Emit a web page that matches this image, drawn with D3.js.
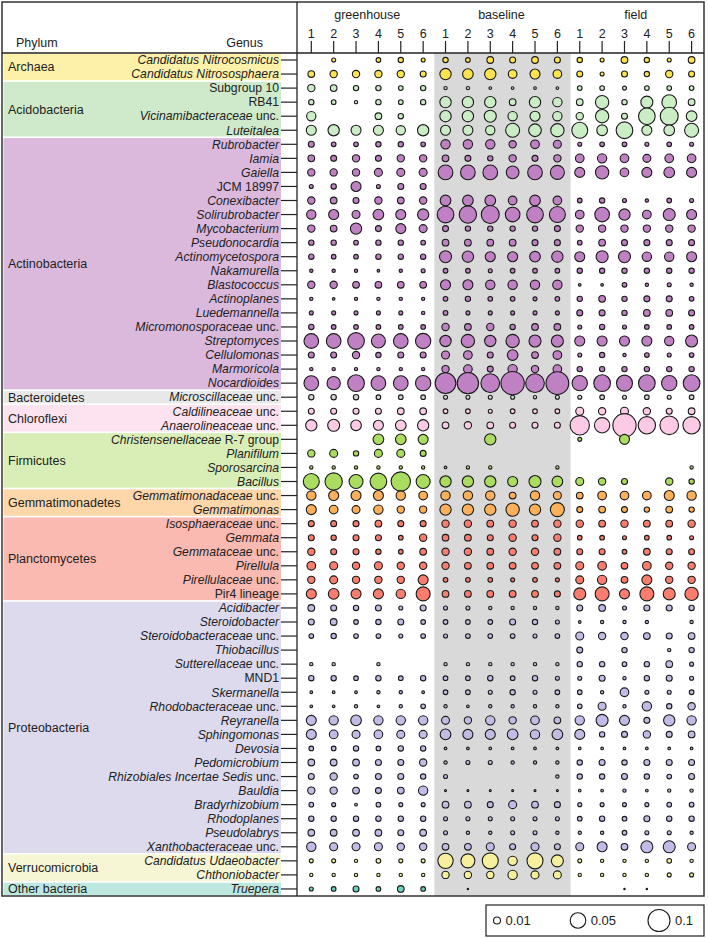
<!DOCTYPE html>
<html>
<head>
<meta charset="utf-8">
<script src="https://cdn.jsdelivr.net/npm/d3@7"></script>
<style>
  html, body { margin: 0; padding: 0; background: #fff; }
  svg { display: block; font-family: "Liberation Sans", Arial, sans-serif; }
</style>
</head>
<body>
<svg id="chart" width="708" height="938"></svg>
<script>
// ---------------- DATA ----------------
const treatments = ["greenhouse", "baseline", "field"];
const replicates = ["1", "2", "3", "4", "5", "6"];

const phyla = ["Archaea", "Acidobacteria", "Actinobacteria", "Bacteroidetes", "Chloroflexi",
  "Firmicutes", "Gemmatimonadetes", "Planctomycetes", "Proteobacteria", "Verrucomicrobia", "Other bacteria"];
const phylumGenusCounts = [2, 4, 18, 1, 2, 4, 2, 6, 18, 2, 1];
const bandColors = ["#fdf1aa", "#cfeaca", "#dbb9dd", "#e8e8e8", "#fde2f0", "#d9eeb6",
  "#fdd6a9", "#fab9b1", "#dddaee", "#f6f6d4", "#bde8df"];
const bubbleColors = ["#fde44f", "#cbedc6", "#bf80c4", "#d5d5d5", "#fdcae5", "#aadc60",
  "#fdb05a", "#f87d6f", "#c0bce6", "#f6f09d", "#70d0be"];

// italic part between underscores
const genera = [
  "_Candidatus Nitrocosmicus_", "_Candidatus Nitrososphaera_",
  "Subgroup 10", "RB41", "_Vicinamibacteraceae_ unc.", "_Luteitalea_",
  "_Rubrobacter_", "_Iamia_", "_Gaiella_", "JCM 18997", "_Conexibacter_", "_Solirubrobacter_",
  "_Mycobacterium_", "_Pseudonocardia_", "_Actinomycetospora_", "_Nakamurella_", "_Blastococcus_",
  "_Actinoplanes_", "_Luedemannella_", "_Micromonosporaceae_ unc.", "_Streptomyces_", "_Cellulomonas_",
  "_Marmoricola_", "_Nocardioides_",
  "_Microscillaceae_ unc.",
  "_Caldilineaceae_ unc.", "_Anaerolineaceae_ unc.",
  "_Christensenellaceae_ R-7 group", "_Planifilum_", "_Sporosarcina_", "_Bacillus_",
  "_Gemmatimonadaceae_ unc.", "_Gemmatimonas_",
  "_Isosphaeraceae_ unc.", "_Gemmata_", "_Gemmataceae_ unc.", "_Pirellula_", "_Pirellulaceae_ unc.", "Pir4 lineage",
  "_Acidibacter_", "_Steroidobacter_", "_Steroidobacteraceae_ unc.", "_Thiobacillus_", "_Sutterellaceae_ unc.",
  "MND1", "_Skermanella_", "_Rhodobacteraceae_ unc.", "_Reyranella_", "_Sphingomonas_", "_Devosia_",
  "_Pedomicrobium_", "_Rhizobiales Incertae Sedis_ unc.", "_Bauldia_", "_Bradyrhizobium_", "_Rhodoplanes_",
  "_Pseudolabrys_", "_Xanthobacteraceae_ unc.",
  "_Candidatus Udaeobacter_", "_Chthoniobacter_",
  "_Truepera_"
];

// relative abundance in percent, one row per genus, columns = replicates 1..6
const greenhouse = [
  [0,.33,0,.45,.59,.33],[.92,1.11,1.11,1.11,1.11,.74],
  [1.11,.92,.59,.59,.45,.59],[.59,.45,.23,.59,.45,.59],[1.8,0,0,.92,.59,0],[2.07,2.65,2.07,2.07,1.8,2.65],
  [.74,.45,.45,.59,.59,.45],[.92,.74,1.11,.74,1.11,1.11],[1.11,1.11,1.11,1.32,1.32,1.32],[.33,.59,2.07,.33,.74,.74],
  [1.11,.92,.74,1.11,.92,1.11],[1.8,2.07,1.32,2.35,2.07,2.65],[1.11,.92,2.65,.74,2.07,1.32],[.59,.59,.45,.59,.59,.45],
  [.59,.45,.45,.59,.59,.59],[.23,.23,.23,.15,.23,.33],[1.11,1.11,.92,.92,.92,.92],[.23,.15,.23,.23,.23,.23],
  [.33,.33,.33,.33,.33,.23],[.59,.45,.45,.45,.45,.45],[4.44,4.44,5.74,4.05,4.44,4.86],[.74,.74,1.11,.59,.74,.74],
  [.23,.23,.23,.23,.23,.23],[4.44,3.67,5.74,4.44,4.44,4.86],
  [.59,.59,.59,.45,.45,.45],
  [.74,.74,.74,.74,.92,.92],[2.65,2.98,2.35,2.07,2.35,2.65],
  [0,0,0,2.35,2.35,2.07],[1.11,1.32,.59,1.32,1.32,.74],[.23,.23,.23,.23,.23,.23],[5.29,6.21,4.05,5.74,7.72,4.05],
  [1.8,2.07,2.07,2.07,1.8,1.55],[2.07,1.55,1.32,1.8,1.11,1.11],
  [.74,.74,.74,.92,.74,.74],[.74,.59,.74,.74,.45,1.11],[1.11,.74,.74,.59,.45,.92],[1.55,1.32,1.11,1.32,1.11,1.11],
  [1.11,1.32,1.11,1.11,1.11,2.07],[2.07,2.35,2.07,2.07,1.8,4.05],
  [.92,.74,.59,.74,.33,.74],[.74,.92,.45,.59,.74,.45],[.45,.59,.45,.45,.33,.45],[0,0,0,0,0,0],[.23,.23,0,.23,0,0],
  [.59,.59,.45,.59,.45,.59],[.15,.15,.15,.23,.23,.15],[.15,.15,.23,.15,.23,.45],[2.07,1.8,2.35,1.8,1.8,1.8],
  [2.07,1.55,1.32,1.55,1.32,1.32],[.45,.45,.59,.45,.59,.59],[.92,.92,.92,.74,.74,1.11],[.74,1.11,.45,.74,.74,.59],
  [1.11,1.11,.92,.74,.92,1.8],[.45,.33,.15,.45,.33,.33],[.59,.59,.59,.59,.59,.59],[.92,.92,.92,.92,.74,.92],
  [1.8,1.32,1.32,1.32,1.11,1.11],
  [.33,.33,.23,.45,.33,.33],[.23,.23,.23,.23,.23,.23],
  [.33,.45,.74,.45,.92,.45]
];
const baseline = [
  [.59,.45,.92,.74,.92,.74],[2.65,2.35,2.65,1.55,2.07,1.55],
  [.23,.23,.15,.15,.15,.15],[2.65,2.65,2.65,.92,2.65,1.8],[2.65,2.65,2.98,1.8,2.07,1.8],[2.07,2.07,1.8,4.05,3.31,3.67],
  [1.8,1.8,1.8,1.11,1.55,1.32],[.92,.74,.59,1.11,.74,1.11],[4.44,4.44,4.44,3.31,4.44,4.05],[0,0,0,0,0,0],
  [2.35,2.35,2.35,1.55,2.35,1.55],[5.74,6.21,6.69,4.44,5.74,5.29],[.74,.59,.59,.59,.59,.74],[.92,.92,.92,.92,.74,.74],
  [2.98,2.65,2.07,2.07,2.35,2.65],[.45,.45,.33,.45,.45,.45],[2.07,2.07,1.8,1.8,1.8,1.8],[.45,.59,.45,.45,.33,.45],
  [.45,.33,.33,.33,.33,.33],[1.11,.92,1.11,.59,.92,.92],[2.65,3.67,2.65,3.67,2.98,2.98],[1.32,1.55,.74,2.35,.92,1.55],
  [1.11,1.55,.74,1.8,1.11,1.55],[8.82,9.4,7.2,11.2,7.2,10.6],
  [.33,.33,.33,.33,.23,.33],
  [.45,.45,.33,.45,.45,.45],[.92,1.11,.92,.74,.74,.74],
  [0,0,2.65,0,0,0],[0,0,0,0,0,0],[.15,.23,.23,0,0,.23],[2.65,2.65,2.65,2.07,2.98,2.35],
  [1.8,1.8,1.8,.92,1.8,1.32],[2.65,2.65,2.65,3.67,2.65,4.05],
  [1.11,1.11,.92,1.11,.92,1.11],[.92,.92,.74,1.11,.74,1.11],[1.11,1.11,.92,1.11,1.11,.92],[1.11,.92,.92,.92,.92,.92],
  [.45,.45,.45,.33,.45,.33],[.92,.92,.92,.92,.92,.74],
  [.33,.33,.23,.23,.23,.23],[.45,.45,.45,.74,.59,.33],[.33,.45,.45,.45,.33,.45],[0,0,0,0,0,0],[.23,.23,.23,.23,.23,.23],
  [.45,.45,.59,.45,.59,.33],[.45,.45,.33,.59,.33,.45],[.23,.15,.23,.23,.23,.23],[1.32,1.11,1.8,1.11,1.55,.92],
  [2.35,2.07,2.07,2.35,1.8,2.35],[.15,.15,.15,.15,.15,.15],[.23,.33,.33,.23,.23,.23],[.33,0,0,0,0,.23],
  [.08,.08,.08,.08,.08,.08],[.92,.92,.74,1.32,.92,.74],[.33,.33,.33,.33,.33,.33],[.33,.23,.23,.33,.33,.23],
  [.92,.92,1.32,.74,1.32,.74],
  [4.86,4.05,5.29,1.8,5.29,2.98],[1.11,1.11,1.11,1.8,1.32,1.32],
  [0,.04,0,0,0,0]
];
const field = [
  [.59,.33,.92,.59,.33,.92],[.74,.33,.74,.59,1.11,.74],
  [.45,.45,.33,.45,.45,.45],[.92,3.67,.59,2.98,4.44,.92],[1.11,3.67,.74,5.74,6.69,2.35],[5.29,2.35,5.74,2.07,2.35,4.05],
  [.33,.45,.45,.33,.45,.33],[1.55,1.8,1.55,1.32,1.55,1.55],[2.07,3.67,1.55,2.07,2.35,2.07],[0,0,0,0,0,0],
  [.45,.59,.33,.23,.45,.33],[1.55,4.44,2.65,1.55,2.98,2.07],[1.11,1.11,1.11,1.11,1.11,1.11],[.45,.92,.74,.74,.74,.74],
  [2.07,2.98,2.98,1.8,1.8,2.07],[.59,.59,.59,.59,.59,.59],[.15,.15,.45,.23,.33,.23],[.59,.92,.59,.74,.74,.45],
  [.74,.74,.59,.92,.92,.74],[.33,.59,.33,.45,.45,.45],[2.07,2.07,2.07,2.07,1.8,2.98],[.33,.59,.23,.45,.33,.45],
  [.59,.59,.59,.59,.59,.59],[4.86,5.74,5.29,5.74,4.86,5.74],
  [.33,.45,.33,.45,.33,.45],
  [1.32,1.11,1.32,1.11,.74,.92],[7.72,4.86,11.2,6.21,7.2,6.21],
  [.33,0,2.07,0,0,0],[0,0,0,0,0,0],[0,0,0,0,0,.23],[1.32,1.11,.74,0,1.11,.59],
  [.92,1.55,1.55,1.55,2.07,1.8],[.74,.92,.74,.59,.92,.59],
  [1.11,.92,1.11,.92,.92,1.11],[.45,.45,.33,.45,.45,.33],[.74,.74,.45,.92,.74,.74],[1.32,1.55,.92,1.55,1.11,1.11],
  [1.32,1.8,.92,2.07,1.11,1.11],[2.98,4.05,2.07,4.05,2.98,3.67],
  [.74,.92,.33,.74,.74,.59],[.15,.23,.23,.23,0,.23],[1.32,1.11,1.11,.92,.74,.92],[.74,0,.59,0,.23,.59],
  [.59,.59,.45,.59,.92,.33],[.33,.74,.23,.59,.74,.33],[.45,.23,1.55,.33,.33,.45],[.45,1.32,.23,1.8,.59,1.11],
  [1.8,2.98,2.07,.74,2.65,1.8],[2.07,.59,.74,1.11,.74,.92],[.15,.15,.15,.15,.15,.15],[.59,.74,.59,.74,.74,.74],
  [.59,.59,.74,.59,.45,.74],[.15,.15,.23,.15,.23,.23],[.33,.33,.33,.33,.45,.45],[.45,.59,.45,.74,.59,.59],
  [.23,.23,.45,.33,.33,.23],[1.32,2.07,.92,2.98,2.98,1.32],
  [.33,.23,.23,.23,.45,.23],[.23,.23,.23,.23,.33,.33],
  [0,0,.04,.04,0,0]
];

const legendValues = [0.01, 0.05, 0.1];

// ---------------- BUILD ----------------
const svg = d3.select("#chart");
const frame = { x: 2, y: 2, w: 702, h: 894 };
const axisX = 297, headerY = 53, bandRight = 281;

const columns = [];
treatments.forEach(t => replicates.forEach(r => columns.push(t + "-" + r)));
const x = d3.scalePoint().domain(columns).range([311.3, 691.6]);
const y = d3.scalePoint().domain(d3.range(genera.length)).range([60, 60 + 14.05 * (genera.length - 1)]);
const r = d3.scaleSqrt().domain([0, 10]).range([0, 11]);   // percent -> radius

// phylum index for each genus
const phylumOf = [];
phylumGenusCounts.forEach((n, i) => { for (let k = 0; k < n; k++) phylumOf.push(i); });

// gray baseline background
const bx0 = (x("greenhouse-6") + x("baseline-1")) / 2;
const bx1 = (x("baseline-6") + x("field-1")) / 2 + 2;
svg.append("rect").attr("x", bx0).attr("y", headerY).attr("width", bx1 - bx0)
  .attr("height", frame.y + frame.h - headerY).attr("fill", "#d9d9d9");

// phylum bands
let start = 0;
phylumGenusCounts.forEach((n, i) => {
  const y0 = y(start) - 6.2, y1 = y(start + n - 1) + 6.2;
  svg.append("rect").attr("x", 3.5).attr("y", y0).attr("width", bandRight - 3.5).attr("height", y1 - y0)
    .attr("fill", bandColors[i]);
  svg.append("text").attr("x", 8).attr("y", (y0 + y1) / 2).attr("dy", "0.35em")
    .attr("font-size", 12.5).attr("fill", "#222").text(phyla[i]);
  start += n;
});

// genus labels
genera.forEach((g, i) => {
  const t = svg.append("text").attr("x", 279).attr("y", y(i)).attr("dy", "0.35em")
    .attr("text-anchor", "end").attr("font-size", 12.2).attr("fill", "#222");
  const parts = g.split("_");
  parts.forEach((p, k) => {
    if (!p) return;
    t.append("tspan").attr("font-style", k % 2 === 1 ? "italic" : "normal").text(p);
  });
  svg.append("line").attr("x1", bandRight).attr("x2", axisX).attr("y1", y(i)).attr("y2", y(i))
    .attr("stroke", "#222").attr("stroke-width", 1.2);
});

// header
svg.append("text").attr("x", 16).attr("y", 47).attr("font-size", 12.5).attr("fill", "#222").text("Phylum");
svg.append("text").attr("x", 263).attr("y", 47).attr("text-anchor", "end").attr("font-size", 12.5).attr("fill", "#222").text("Genus");
treatments.forEach(t => {
  const cx = (x(t + "-1") + x(t + "-6")) / 2;
  svg.append("text").attr("x", cx).attr("y", 19).attr("text-anchor", "middle")
    .attr("font-size", 12.5).attr("fill", "#222").text(t);
});
columns.forEach(c => {
  svg.append("text").attr("x", x(c)).attr("y", 38).attr("text-anchor", "middle")
    .attr("font-size", 12.5).attr("fill", "#222").text(c.split("-")[1]);
  svg.append("line").attr("x1", x(c)).attr("x2", x(c)).attr("y1", 41).attr("y2", headerY)
    .attr("stroke", "#222").attr("stroke-width", 1.2);
});

// bubbles
const cells = [];
genera.forEach((g, i) => {
  [greenhouse, baseline, field].forEach((arr, ti) => {
    arr[i].forEach((v, j) => {
      if (v > 0) cells.push({ row: i, col: treatments[ti] + "-" + replicates[j], v });
    });
  });
});
svg.append("g").selectAll("circle").data(cells).join("circle")
  .attr("cx", d => x(d.col)).attr("cy", d => y(d.row)).attr("r", d => r(d.v))
  .attr("fill", d => bubbleColors[phylumOf[d.row]])
  .attr("stroke", "#1a1a1a").attr("stroke-width", 1.1);

// frame lines
svg.append("rect").attr("x", frame.x).attr("y", frame.y).attr("width", frame.w).attr("height", frame.h)
  .attr("fill", "none").attr("stroke", "#333").attr("stroke-width", 1.5);
svg.append("line").attr("x1", axisX).attr("x2", axisX).attr("y1", frame.y).attr("y2", frame.y + frame.h)
  .attr("stroke", "#222").attr("stroke-width", 1.3);
svg.append("line").attr("x1", frame.x).attr("x2", frame.x + frame.w).attr("y1", headerY).attr("y2", headerY)
  .attr("stroke", "#222").attr("stroke-width", 1.3);

// size legend
const lg = svg.append("g");
lg.append("rect").attr("x", 486).attr("y", 905).attr("width", 218).attr("height", 31)
  .attr("fill", "#fff").attr("stroke", "#333").attr("stroke-width", 1.3);
const legX = [497, 578, 659];
legendValues.forEach((v, i) => {
  const rr = r(v * 100);
  lg.append("circle").attr("cx", legX[i]).attr("cy", 920.5).attr("r", rr)
    .attr("fill", "#fff").attr("stroke", "#1a1a1a").attr("stroke-width", 1.1);
  lg.append("text").attr("x", legX[i] + rr + 5).attr("y", 920.5).attr("dy", "0.35em")
    .attr("font-size", 13).attr("fill", "#222").text(String(v));
});
</script>
</body>
</html>
